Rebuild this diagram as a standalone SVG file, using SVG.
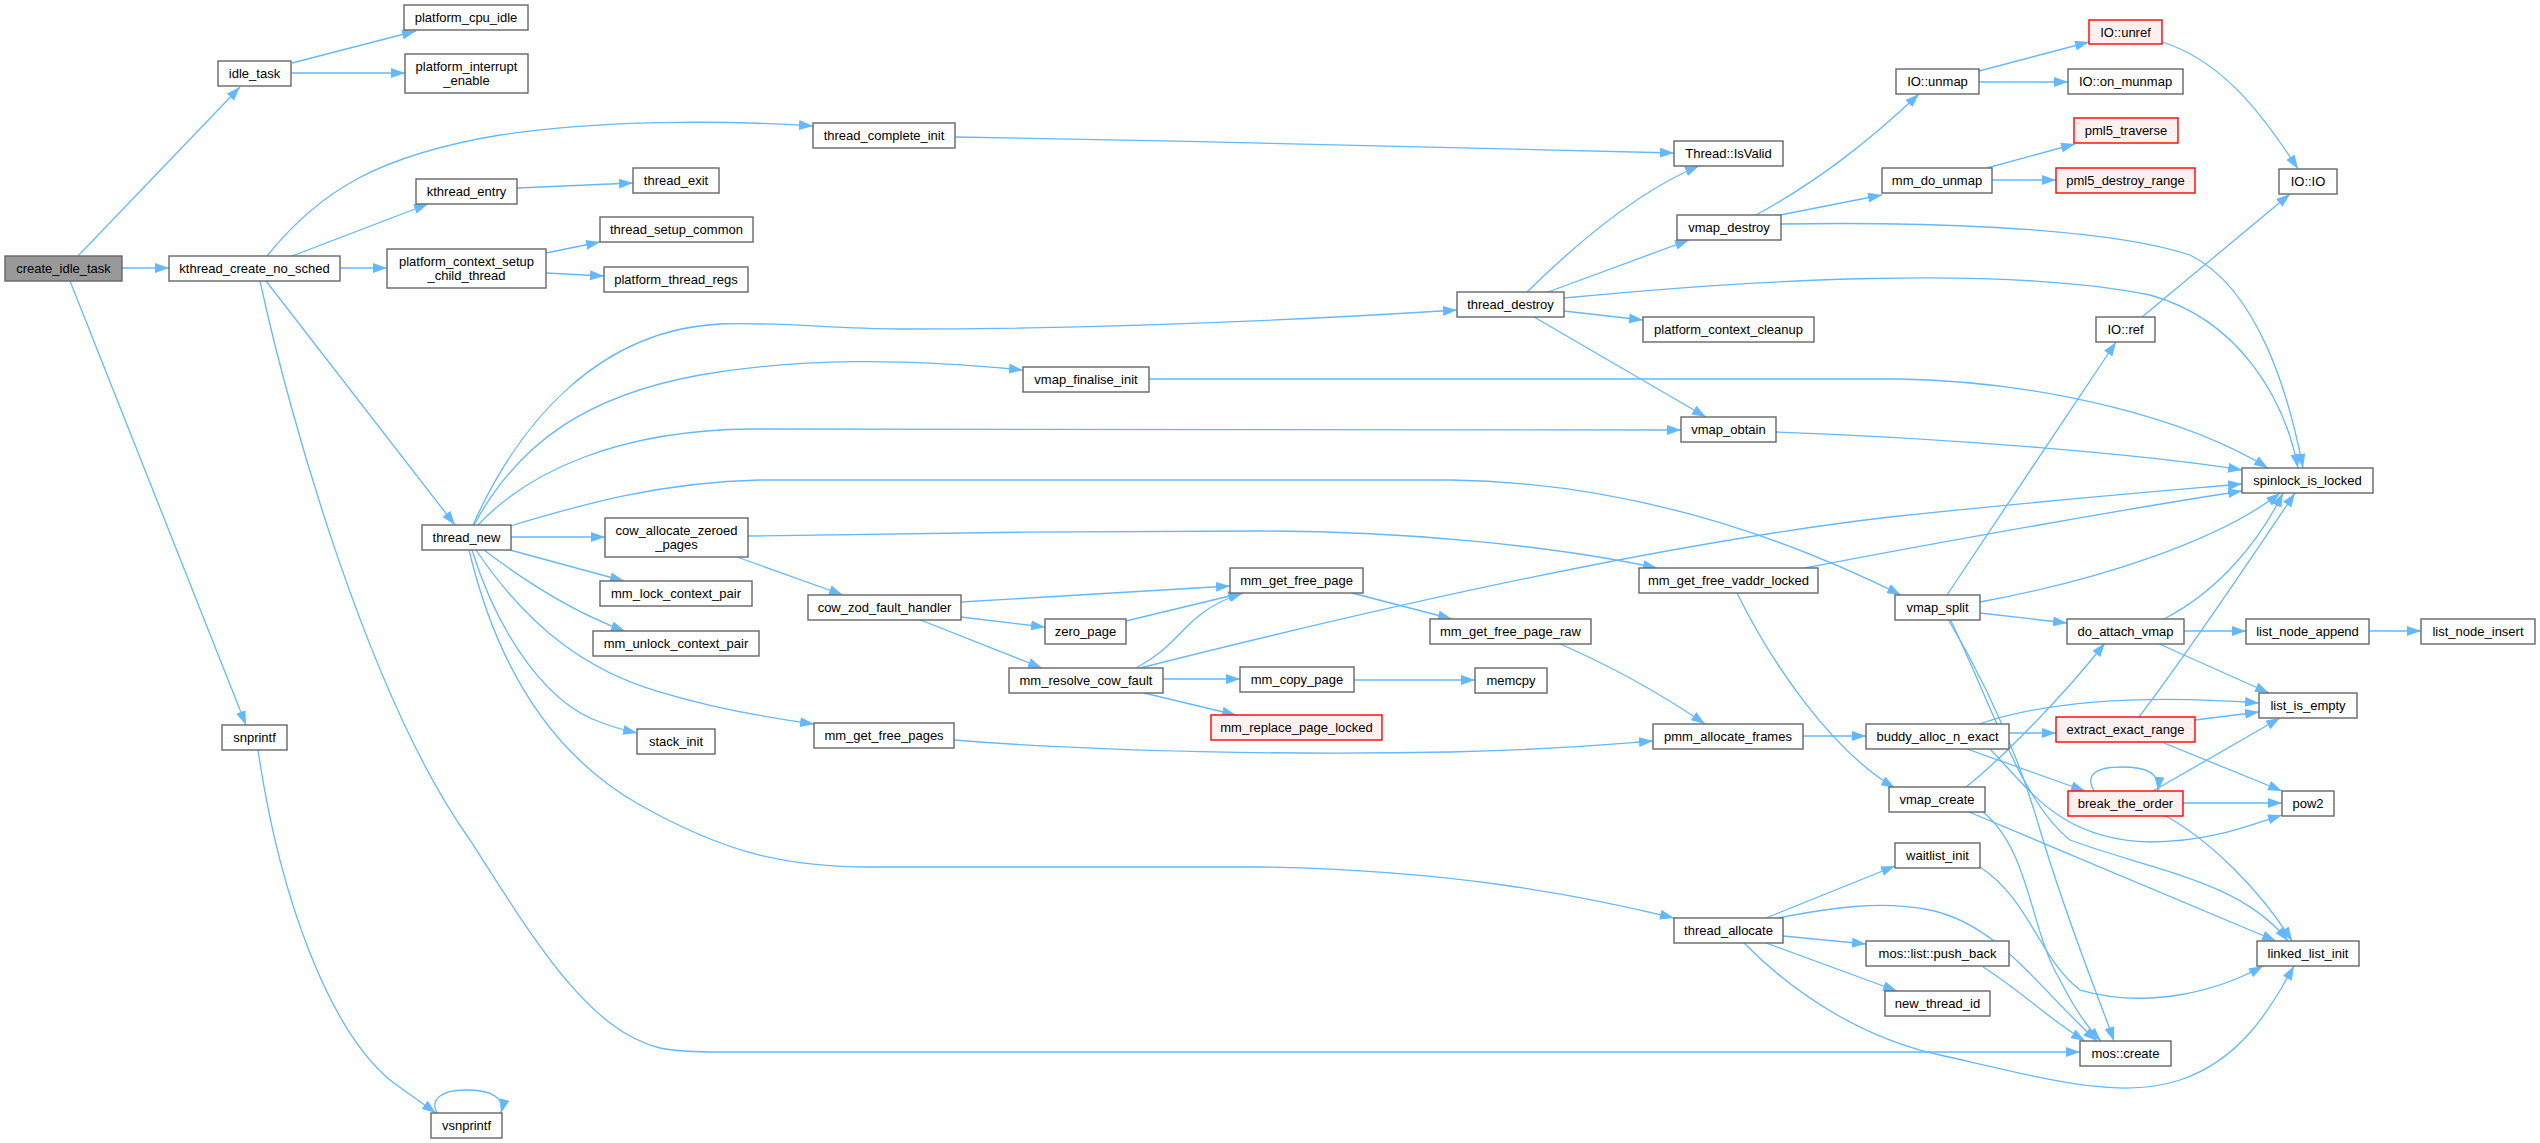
<svg xmlns="http://www.w3.org/2000/svg" width="2540" height="1143" viewBox="0 0 2540 1143">
<defs>
<style>
.node rect{fill:#fff;stroke:#666;stroke-width:1.4}
.node.red rect{fill:#fff0f0;stroke:#f00}
.node.root rect{fill:#999;stroke:#666}
.node text{font-family:"Liberation Sans",Arial,sans-serif;font-size:13px;fill:#000;text-anchor:middle}
.edges path{fill:none;stroke:#63b8ff;stroke-width:1.3;marker-end:url(#ah)}
</style>
<marker id="ah" markerUnits="userSpaceOnUse" markerWidth="14" markerHeight="10" refX="14" refY="5" orient="auto"><path d="M0,0 L14,5 L0,10 z" fill="#63b8ff"/></marker>
</defs>
<rect width="2540" height="1143" fill="#fff"/>
<g class="edges">
<path d="M78,256 L240,87"/>
<path d="M122,268 L169,268"/>
<path d="M70,281 L246,725"/>
<path d="M292,63 L416,31"/>
<path d="M291,73 L405,73"/>
<path d="M267,256 C320,190 380,155 500,135 C600,120 720,120 813,126"/>
<path d="M292,256 L428,204"/>
<path d="M340,268 L387,268"/>
<path d="M266,281 L455,525"/>
<path d="M260,281 C290,420 370,700 470,840 C540,950 590,1030 660,1048 C680,1052 700,1052 720,1052 L2080,1052"/>
<path d="M517,188 L633,183"/>
<path d="M546,253 L600,242"/>
<path d="M546,273 L604,276"/>
<path d="M955,137 C1200,141 1500,148 1674,153"/>
<path d="M473,525 C520,420 600,330 720,324 C790,322 830,329 900,329 C1100,329 1300,320 1457,310"/>
<path d="M474,525 C520,440 590,395 700,375 C800,358 900,358 1023,370"/>
<path d="M478,525 C530,470 620,430 752,429 L1681,430"/>
<path d="M510,526 C580,505 660,482 760,480 L1450,480 C1600,482 1750,520 1901,595"/>
<path d="M511,537 L605,537"/>
<path d="M510,550 L624,581"/>
<path d="M484,550 C530,585 575,613 625,631"/>
<path d="M476,550 C530,630 590,672 660,692 C720,710 770,718 814,724"/>
<path d="M472,550 C500,640 550,705 600,722 C615,728 628,731 637,733"/>
<path d="M469,550 C500,680 560,760 640,805 C720,850 780,867 870,867 L1260,867 C1450,870 1580,895 1674,918"/>
<path d="M737,557 L843,595"/>
<path d="M748,536 C900,533 1100,531 1260,531 C1400,531 1550,545 1657,568"/>
<path d="M961,602 L1230,586"/>
<path d="M961,617 L1045,627"/>
<path d="M918,619 L1042,668"/>
<path d="M1126,621 L1242,593"/>
<path d="M1136,668 C1170,650 1180,630 1200,615 C1215,603 1230,597 1243,593"/>
<path d="M1140,668 C1350,615 1650,545 1890,517 C2050,500 2150,492 2242,484"/>
<path d="M1163,679 L1240,679"/>
<path d="M1144,693 L1236,715"/>
<path d="M954,740 C1100,752 1300,755 1450,752 C1550,750 1600,745 1653,741"/>
<path d="M1352,593 L1452,619"/>
<path d="M1558,643 C1620,670 1670,700 1705,724"/>
<path d="M1354,680 L1475,680"/>
<path d="M1803,736 L1866,736"/>
<path d="M1527,292 C1580,240 1640,190 1699,166"/>
<path d="M1548,292 L1689,240"/>
<path d="M1564,298 C1750,280 2000,265 2150,295 C2240,320 2285,400 2298,468"/>
<path d="M1564,311 L1643,320"/>
<path d="M1534,317 L1706,417"/>
<path d="M1756,215 C1820,180 1870,140 1919,94"/>
<path d="M1780,215 L1882,195"/>
<path d="M1780,224 C1900,222 2100,225 2190,255 C2260,290 2290,400 2303,468"/>
<path d="M1979,71 L2089,42"/>
<path d="M1979,82 L2068,82"/>
<path d="M1987,168 L2075,144"/>
<path d="M1992,180 L2056,180"/>
<path d="M2162,42 C2220,60 2260,110 2298,169"/>
<path d="M2142,317 L2290,194"/>
<path d="M1149,379 L1900,379 C2050,382 2190,420 2268,468"/>
<path d="M1776,432 C1950,438 2150,455 2242,470"/>
<path d="M1805,568 C1950,540 2150,505 2242,491"/>
<path d="M1737,593 C1770,660 1830,750 1895,788"/>
<path d="M1947,595 L2116,342"/>
<path d="M1980,602 C2100,580 2220,540 2280,493"/>
<path d="M1980,613 L2067,623"/>
<path d="M1948,619 C1990,690 2020,760 2040,830 C2070,930 2100,1000 2114,1041"/>
<path d="M1950,619 C1990,700 2020,800 2070,840 C2150,870 2240,880 2288,941"/>
<path d="M1979,724 C2050,700 2150,695 2259,703"/>
<path d="M2009,733 L2056,733"/>
<path d="M1967,749 L2085,791"/>
<path d="M1990,749 C2030,790 2060,840 2150,842 C2210,842 2250,825 2282,815"/>
<path d="M2164,619 C2220,590 2260,540 2283,493"/>
<path d="M2184,631 L2246,631"/>
<path d="M2157,643 L2269,693"/>
<path d="M2369,631 L2421,631"/>
<path d="M2139,717 C2190,650 2250,560 2295,493"/>
<path d="M2195,720 L2259,712"/>
<path d="M2164,743 L2282,791"/>
<path d="M2094,791 C2085,775 2095,767 2122,767 C2145,767 2160,772 2158,791"/>
<path d="M2153,791 L2280,718"/>
<path d="M2183,803 L2282,803"/>
<path d="M2164,815 C2210,840 2260,890 2292,941"/>
<path d="M1966,787 C2000,760 2060,700 2105,643"/>
<path d="M1983,812 C2030,850 2030,930 2060,980 C2075,1010 2090,1030 2101,1041"/>
<path d="M1969,812 L2276,941"/>
<path d="M1980,867 C2030,900 2040,960 2080,990 C2150,1010 2220,990 2263,966"/>
<path d="M1766,918 L1895,866"/>
<path d="M1783,936 L1866,944"/>
<path d="M1766,943 L1897,991"/>
<path d="M1778,918 C1830,908 1880,900 1930,910 C2000,925 2040,990 2097,1041"/>
<path d="M1744,943 C1800,1000 1870,1040 1940,1055 C2050,1080 2120,1100 2180,1080 C2240,1060 2270,1010 2294,966"/>
<path d="M1983,967 C2020,990 2050,1020 2085,1041"/>
<path d="M258,750 C280,900 330,1030 390,1080 C410,1095 425,1105 436,1113"/>
<path d="M437,1113 C430,1100 440,1090 466,1090 C492,1090 505,1098 501,1113"/>
</g>
<g id="create_idle_task" class="node root"><rect x="5" y="256" width="117" height="25"/><text x="63.5" y="273">create_idle_task</text></g>
<g id="idle_task" class="node"><rect x="218" y="61" width="73" height="25"/><text x="254.5" y="78">idle_task</text></g>
<g id="platform_cpu_idle" class="node"><rect x="404" y="5" width="124" height="25"/><text x="466" y="22">platform_cpu_idle</text></g>
<g id="platform_interrupt_enable" class="node"><rect x="405" y="54" width="123" height="39"/><text x="466.5" y="71">platform_interrupt</text><text x="466.5" y="85">_enable</text></g>
<g id="kthread_create_no_sched" class="node"><rect x="169" y="256" width="171" height="25"/><text x="254.5" y="273">kthread_create_no_sched</text></g>
<g id="kthread_entry" class="node"><rect x="416" y="179" width="101" height="25"/><text x="466.5" y="196">kthread_entry</text></g>
<g id="platform_context_setup_child_thread" class="node"><rect x="387" y="249" width="159" height="39"/><text x="466.5" y="266">platform_context_setup</text><text x="466.5" y="280">_child_thread</text></g>
<g id="thread_exit" class="node"><rect x="633" y="168" width="86" height="25"/><text x="676" y="185">thread_exit</text></g>
<g id="thread_setup_common" class="node"><rect x="600" y="217" width="153" height="25"/><text x="676.5" y="234">thread_setup_common</text></g>
<g id="platform_thread_regs" class="node"><rect x="604" y="267" width="144" height="25"/><text x="676" y="284">platform_thread_regs</text></g>
<g id="thread_complete_init" class="node"><rect x="813" y="123" width="142" height="25"/><text x="884" y="140">thread_complete_init</text></g>
<g id="vmap_finalise_init" class="node"><rect x="1023" y="367" width="126" height="25"/><text x="1086" y="384">vmap_finalise_init</text></g>
<g id="Thread_IsValid" class="node"><rect x="1674" y="141" width="109" height="25"/><text x="1728.5" y="158">Thread::IsValid</text></g>
<g id="vmap_destroy" class="node"><rect x="1677" y="215" width="104" height="25"/><text x="1729" y="232">vmap_destroy</text></g>
<g id="thread_destroy" class="node"><rect x="1457" y="292" width="107" height="25"/><text x="1510.5" y="309">thread_destroy</text></g>
<g id="platform_context_cleanup" class="node"><rect x="1643" y="317" width="171" height="25"/><text x="1728.5" y="334">platform_context_cleanup</text></g>
<g id="mm_do_unmap" class="node"><rect x="1882" y="168" width="110" height="25"/><text x="1937" y="185">mm_do_unmap</text></g>
<g id="IO_unmap" class="node"><rect x="1896" y="69" width="83" height="25"/><text x="1937.5" y="86">IO::unmap</text></g>
<g id="IO_unref" class="node red"><rect x="2089" y="20" width="73" height="24"/><text x="2125.5" y="37">IO::unref</text></g>
<g id="IO_on_munmap" class="node"><rect x="2068" y="69" width="115" height="25"/><text x="2125.5" y="86">IO::on_munmap</text></g>
<g id="pml5_traverse" class="node red"><rect x="2074" y="118" width="104" height="25"/><text x="2126" y="135">pml5_traverse</text></g>
<g id="pml5_destroy_range" class="node red"><rect x="2056" y="168" width="139" height="25"/><text x="2125.5" y="185">pml5_destroy_range</text></g>
<g id="IO_IO" class="node"><rect x="2279" y="169" width="58" height="25"/><text x="2308" y="186">IO::IO</text></g>
<g id="IO_ref" class="node"><rect x="2096" y="317" width="59" height="25"/><text x="2125.5" y="334">IO::ref</text></g>
<g id="thread_new" class="node"><rect x="422" y="525" width="89" height="25"/><text x="466.5" y="542">thread_new</text></g>
<g id="snprintf" class="node"><rect x="222" y="725" width="65" height="25"/><text x="254.5" y="742">snprintf</text></g>
<g id="cow_allocate_zeroed_pages" class="node"><rect x="605" y="518" width="143" height="39"/><text x="676.5" y="535">cow_allocate_zeroed</text><text x="676.5" y="549">_pages</text></g>
<g id="mm_lock_context_pair" class="node"><rect x="600" y="581" width="152" height="25"/><text x="676" y="598">mm_lock_context_pair</text></g>
<g id="mm_unlock_context_pair" class="node"><rect x="593" y="631" width="166" height="25"/><text x="676" y="648">mm_unlock_context_pair</text></g>
<g id="stack_init" class="node"><rect x="637" y="729" width="78" height="25"/><text x="676" y="746">stack_init</text></g>
<g id="cow_zod_fault_handler" class="node"><rect x="808" y="595" width="153" height="25"/><text x="884.5" y="612">cow_zod_fault_handler</text></g>
<g id="zero_page" class="node"><rect x="1045" y="619" width="81" height="25"/><text x="1085.5" y="636">zero_page</text></g>
<g id="mm_resolve_cow_fault" class="node"><rect x="1009" y="668" width="154" height="25"/><text x="1086" y="685">mm_resolve_cow_fault</text></g>
<g id="mm_get_free_pages" class="node"><rect x="814" y="723" width="140" height="25"/><text x="884" y="740">mm_get_free_pages</text></g>
<g id="mm_get_free_page" class="node"><rect x="1230" y="568" width="133" height="25"/><text x="1296.5" y="585">mm_get_free_page</text></g>
<g id="mm_copy_page" class="node"><rect x="1240" y="667" width="114" height="25"/><text x="1297" y="684">mm_copy_page</text></g>
<g id="mm_replace_page_locked" class="node red"><rect x="1211" y="715" width="171" height="25"/><text x="1296.5" y="732">mm_replace_page_locked</text></g>
<g id="vmap_obtain" class="node"><rect x="1681" y="417" width="95" height="25"/><text x="1728.5" y="434">vmap_obtain</text></g>
<g id="mm_get_free_vaddr_locked" class="node"><rect x="1639" y="568" width="179" height="25"/><text x="1728.5" y="585">mm_get_free_vaddr_locked</text></g>
<g id="mm_get_free_page_raw" class="node"><rect x="1430" y="619" width="161" height="25"/><text x="1510.5" y="636">mm_get_free_page_raw</text></g>
<g id="memcpy" class="node"><rect x="1475" y="668" width="72" height="25"/><text x="1511" y="685">memcpy</text></g>
<g id="pmm_allocate_frames" class="node"><rect x="1653" y="724" width="150" height="25"/><text x="1728" y="741">pmm_allocate_frames</text></g>
<g id="buddy_alloc_n_exact" class="node"><rect x="1866" y="724" width="143" height="25"/><text x="1937.5" y="741">buddy_alloc_n_exact</text></g>
<g id="vmap_split" class="node"><rect x="1895" y="595" width="85" height="25"/><text x="1937.5" y="612">vmap_split</text></g>
<g id="spinlock_is_locked" class="node"><rect x="2242" y="468" width="131" height="25"/><text x="2307.5" y="485">spinlock_is_locked</text></g>
<g id="do_attach_vmap" class="node"><rect x="2067" y="619" width="117" height="25"/><text x="2125.5" y="636">do_attach_vmap</text></g>
<g id="list_node_append" class="node"><rect x="2246" y="619" width="123" height="25"/><text x="2307.5" y="636">list_node_append</text></g>
<g id="list_node_insert" class="node"><rect x="2421" y="619" width="114" height="25"/><text x="2478" y="636">list_node_insert</text></g>
<g id="list_is_empty" class="node"><rect x="2259" y="693" width="98" height="25"/><text x="2308" y="710">list_is_empty</text></g>
<g id="extract_exact_range" class="node red"><rect x="2056" y="717" width="139" height="25"/><text x="2125.5" y="734">extract_exact_range</text></g>
<g id="vmap_create" class="node"><rect x="1889" y="787" width="96" height="25"/><text x="1937" y="804">vmap_create</text></g>
<g id="break_the_order" class="node red"><rect x="2068" y="791" width="115" height="25"/><text x="2125.5" y="808">break_the_order</text></g>
<g id="pow2" class="node"><rect x="2282" y="791" width="52" height="25"/><text x="2308" y="808">pow2</text></g>
<g id="waitlist_init" class="node"><rect x="1895" y="843" width="85" height="25"/><text x="1937.5" y="860">waitlist_init</text></g>
<g id="mos_list_push_back" class="node"><rect x="1866" y="941" width="143" height="25"/><text x="1937.5" y="958">mos::list::push_back</text></g>
<g id="new_thread_id" class="node"><rect x="1885" y="991" width="105" height="25"/><text x="1937.5" y="1008">new_thread_id</text></g>
<g id="linked_list_init" class="node"><rect x="2257" y="941" width="102" height="25"/><text x="2308" y="958">linked_list_init</text></g>
<g id="mos_create" class="node"><rect x="2080" y="1041" width="91" height="25"/><text x="2125.5" y="1058">mos::create</text></g>
<g id="thread_allocate" class="node"><rect x="1674" y="918" width="109" height="25"/><text x="1728.5" y="935">thread_allocate</text></g>
<g id="vsnprintf" class="node"><rect x="431" y="1113" width="71" height="25"/><text x="466.5" y="1130">vsnprintf</text></g>
</svg>
